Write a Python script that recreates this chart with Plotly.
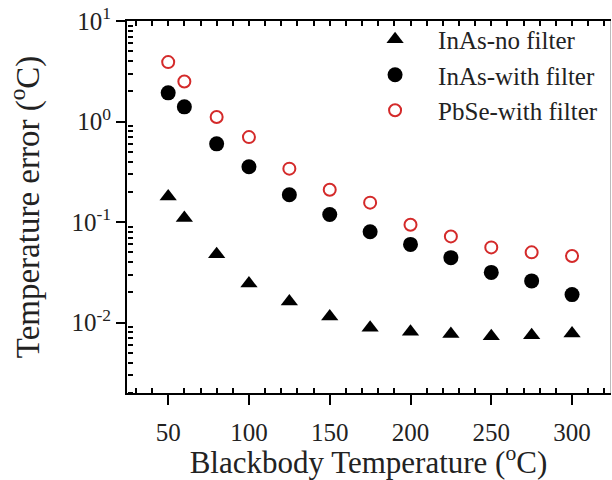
import plotly.graph_objects as go

temps = [50, 60, 80, 100, 125, 150, 175, 200, 225, 250, 275, 300]
inas_no_filter = [0.18, 0.11, 0.048, 0.0245, 0.0162, 0.0115, 0.0089, 0.0081, 0.0077, 0.0073, 0.0075, 0.0078]
inas_with_filter = [1.93, 1.40, 0.60, 0.355, 0.187, 0.119, 0.080, 0.060, 0.0443, 0.0316, 0.026, 0.019]
pbse_with_filter = [3.9, 2.5, 1.11, 0.70, 0.34, 0.21, 0.156, 0.094, 0.072, 0.056, 0.050, 0.046]

y_tickvals = [0.01, 0.1, 1, 10]
y_ticktext = ["10<sup>-2</sup>", "10<sup>-1</sup>", "10<sup>0</sup>", "10<sup>1</sup>"]
y_minor = [m * 10 ** e for e in (-3, -2, -1, 0) for m in range(2, 10)]
x_ticks = [50, 100, 150, 200, 250, 300]
x_minor = [v for v in range(30, 330, 10) if v % 50 != 0]

FONT = "Liberation Serif"
TXT = "#222222"
X_RANGE = [24.5, 323.5]
Y_RANGE = [-2.7, 1.0]

fig = go.Figure()
fig.add_trace(go.Scatter(
    x=temps, y=inas_no_filter, mode="markers", name="InAs-no filter",
    marker=dict(symbol="triangle-up", size=15, color="black", line=dict(width=0))))
fig.add_trace(go.Scatter(
    x=temps, y=inas_with_filter, mode="markers", name="InAs-with filter",
    marker=dict(symbol="circle", size=15, color="black", line=dict(width=0))))
fig.add_trace(go.Scatter(
    x=temps, y=pbse_with_filter, mode="markers", name="PbSe-with filter",
    marker=dict(symbol="circle-open", size=12, color="#d42a2a", line=dict(width=2, color="#d42a2a"))))
# invisible helper traces so the frame / minor-tick axes get drawn
for xa, ya in (("x2", "y2"), ("x3", "y3")):
    fig.add_trace(go.Scatter(x=[100], y=[1], xaxis=xa, yaxis=ya, mode="markers",
                             marker=dict(opacity=0), showlegend=False, hoverinfo="skip"))

common = dict(showgrid=False, zeroline=False, showticklabels=False)

fig.update_layout(
    width=612, height=480,
    margin=dict(l=127, r=2, t=21, b=87),
    paper_bgcolor="white", plot_bgcolor="rgba(0,0,0,0)",
    font=dict(family=FONT, color=TXT, size=25),
    showlegend=True,
    legend=dict(x=0.466, y=1.012, xanchor="left", yanchor="top",
                bgcolor="rgba(0,0,0,0)", font=dict(family=FONT, size=25, color=TXT),
                itemwidth=76, tracegroupgap=0),
    xaxis=dict(
        range=X_RANGE, tickmode="array", tickvals=x_ticks, ticks="outside", ticklen=10, tickwidth=2,
        tickcolor="black", showline=True, linecolor="black", linewidth=2,
        showgrid=False, zeroline=False, ticklabelstandoff=6,
        tickfont=dict(family=FONT, size=25, color=TXT),
        title=dict(text="Blackbody Temperature (<sup>o</sup>C)",
                   font=dict(family=FONT, size=31, color=TXT), standoff=0),
    ),
    yaxis=dict(
        type="log", range=Y_RANGE, tickmode="array", tickvals=y_tickvals, ticktext=y_ticktext,
        ticks="outside", ticklen=9, tickwidth=2, tickcolor="black",
        showline=True, linecolor="black", linewidth=2,
        showgrid=False, zeroline=False,
        tickfont=dict(family=FONT, size=25, color=TXT),
        title=dict(text="Temperature error (<sup>o</sup>C)",
                   font=dict(family=FONT, size=33, color=TXT), standoff=22),
    ),
    # top frame with inward ticks
    xaxis2=dict(
        overlaying="x", side="top", anchor="y2", range=X_RANGE,
        tickmode="array", tickvals=sorted(x_ticks + x_minor), ticks="inside", ticklen=5,
        tickwidth=1.5, tickcolor="black", showline=True, linecolor="black", linewidth=2,
        **common,
    ),
    # right frame: thin grey line only
    yaxis2=dict(
        overlaying="y", side="right", anchor="x2", type="log", range=Y_RANGE,
        ticks="", showline=True, linecolor="#bbbbbb", linewidth=1,
        **common,
    ),
    # bottom minor ticks pointing up into the plot
    xaxis3=dict(
        overlaying="x", side="top", anchor="free", position=0, range=X_RANGE,
        tickmode="array", tickvals=x_minor, ticks="outside", ticklen=5, tickwidth=1.5,
        tickcolor="black", showline=False,
        **common,
    ),
    # left minor ticks pointing right into the plot
    yaxis3=dict(
        overlaying="y", side="right", anchor="free", position=0, type="log", range=Y_RANGE,
        tickmode="array", tickvals=y_minor, ticks="outside", ticklen=5, tickwidth=1.5,
        tickcolor="black", showline=False,
        **common,
    ),
)

fig.write_html("out.html")
